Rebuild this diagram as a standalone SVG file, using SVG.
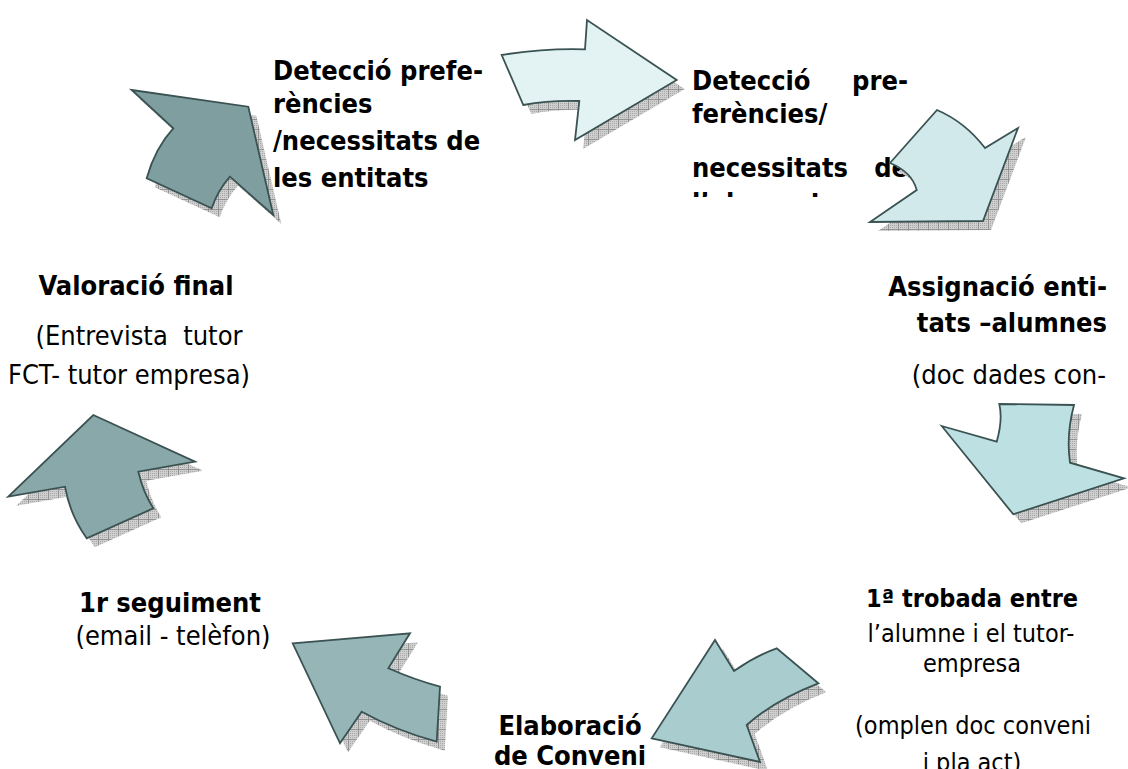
<svg xmlns="http://www.w3.org/2000/svg" width="1128" height="769" viewBox="0 0 1128 769">
<style>
.t{font-family:'DejaVu Sans Condensed','DejaVu Sans',sans-serif;font-stretch:condensed;font-size:27px;fill:#000}
.s{font-size:25px}
.b{font-weight:bold}
.m{text-anchor:middle}
.e{text-anchor:end}
.arr{stroke:#3b5252;stroke-width:1.8;stroke-linejoin:miter}
.sh{fill:url(#hatch);stroke:none}
</style>
<defs>
<pattern id="dots" width="2" height="2" patternUnits="userSpaceOnUse">
<rect width="2" height="2" fill="#cfcfcf"/>
<rect width="1" height="1" fill="#a9a9a9"/>
</pattern>
<pattern id="hatch" width="10" height="10" patternUnits="userSpaceOnUse">
<rect width="10" height="10" fill="url(#dots)"/>
<path d="M0,0.5H10M0.5,0V10" stroke="#8a8a8a" stroke-width="0.8"/>
</pattern>
<clipPath id="c4"><rect x="600" y="180" width="320" height="17"/></clipPath>
<path id="a1" d="M131.7,90 L248.3,106.7 L273.3,215 L230,176.7 Q218,190 211.7,208.3 L146.7,178.3 Q155,148 173.3,128.3 Z"/>
<path id="a2" d="M501.7,55 Q545,48 585,49.3 L587,20 L676.7,80 L575,140 L579.3,101 Q550,100 523.3,105 Z"/>
<path id="a3" d="M890,163 L937,110 Q965,122 985,148 L1018,128 L983,221 L870,222 L916.7,190 Q912,172 890,163 Z"/>
<path id="a4" d="M941.7,426 L996.7,441.7 Q1003,420 999.3,404 L1074,405 Q1066,435 1070,462.7 L1124,478.3 L1013.3,514.3 Z"/>
<path id="a5" d="M715,640 L734,671 Q755,656 776.7,648.3 L818.3,683.3 Q775,700 746.7,725 L760,762 L651.7,738.3 Z"/>
<path id="a6" d="M292.7,643.3 L410,633.3 L388.3,668.3 Q415,680 440,686.7 L436.7,741.7 Q395,730 361.7,711.7 L340,743.3 Z"/>
<path id="a7" d="M93.3,415 L195,461.7 L138.3,471.7 Q143,492 153.3,508.3 L86.7,538.3 Q70,515 65,486.7 L8.3,496.7 Z"/>
</defs>
<rect width="1128" height="769" fill="#fff"/>
<g id="n2">
<text class="t b" x="692" y="90">Detecció</text>
<text class="t b e" x="908" y="90">pre-</text>
<text class="t b" x="692" y="123">ferències/</text>
<text class="t b" x="692" y="177">necessitats</text>
<text class="t b e" x="908" y="177">de</text>
<text class="t b" x="692" y="212" clip-path="url(#c4)">l’alumnat</text>
</g>
<g id="connectors">
<use href="#a1" class="sh" transform="translate(8,9)"/>
<use href="#a1" class="arr" fill="#7f9e9f"/>
<use href="#a2" class="sh" transform="translate(8,9)"/>
<use href="#a2" class="arr" fill="#e3f3f3"/>
<use href="#a3" class="sh" transform="translate(8,9)"/>
<use href="#a3" class="arr" fill="#d1e9eb"/>
<use href="#a4" class="sh" transform="translate(8,9)"/>
<use href="#a4" class="arr" fill="#bde0e2"/>
<use href="#a5" class="sh" transform="translate(8,9)"/>
<use href="#a5" class="arr" fill="#a9cccf"/>
<use href="#a6" class="sh" transform="translate(8,9)"/>
<use href="#a6" class="arr" fill="#95b5b7"/>
<use href="#a7" class="sh" transform="translate(8,9)"/>
<use href="#a7" class="arr" fill="#89a8a9"/>
</g>
<g id="n1">
<text class="t b" x="273" y="80">Detecció prefe-</text>
<text class="t b" x="273" y="113">rències</text>
<text class="t b" x="273" y="150">/necessitats de</text>
<text class="t b" x="273" y="187">les entitats</text>
</g>
<g id="n3">
<text class="t b e" x="1107" y="296">Assignació enti-</text>
<text class="t b e" x="1107" y="332">tats –alumnes</text>
<text class="t e" x="1106" y="384">(doc dades con-</text>
</g>
<g id="n4">
<text class="t s b m" x="972" y="607">1ª trobada entre</text>
<text class="t s m" x="971" y="642">l’alumne i el tutor-</text>
<text class="t s m" x="972" y="672">empresa</text>
<text class="t s m" x="973" y="734">(omplen doc conveni</text>
<text class="t s m" x="972" y="771">i pla act)</text>
</g>
<g id="n5">
<text class="t b m" x="570" y="735">Elaboració</text>
<text class="t b m" x="570" y="765">de Conveni</text>
</g>
<g id="n6">
<text class="t b m" x="170" y="612">1r seguiment</text>
<text class="t m" x="173" y="645">(email - telèfon)</text>
</g>
<g id="n7">
<text class="t b m" x="136" y="295">Valoració final</text>
<text class="t m" x="139" y="345" xml:space="preserve">(Entrevista  tutor</text>
<text class="t m" x="129" y="384">FCT- tutor empresa)</text>
</g>
</svg>
